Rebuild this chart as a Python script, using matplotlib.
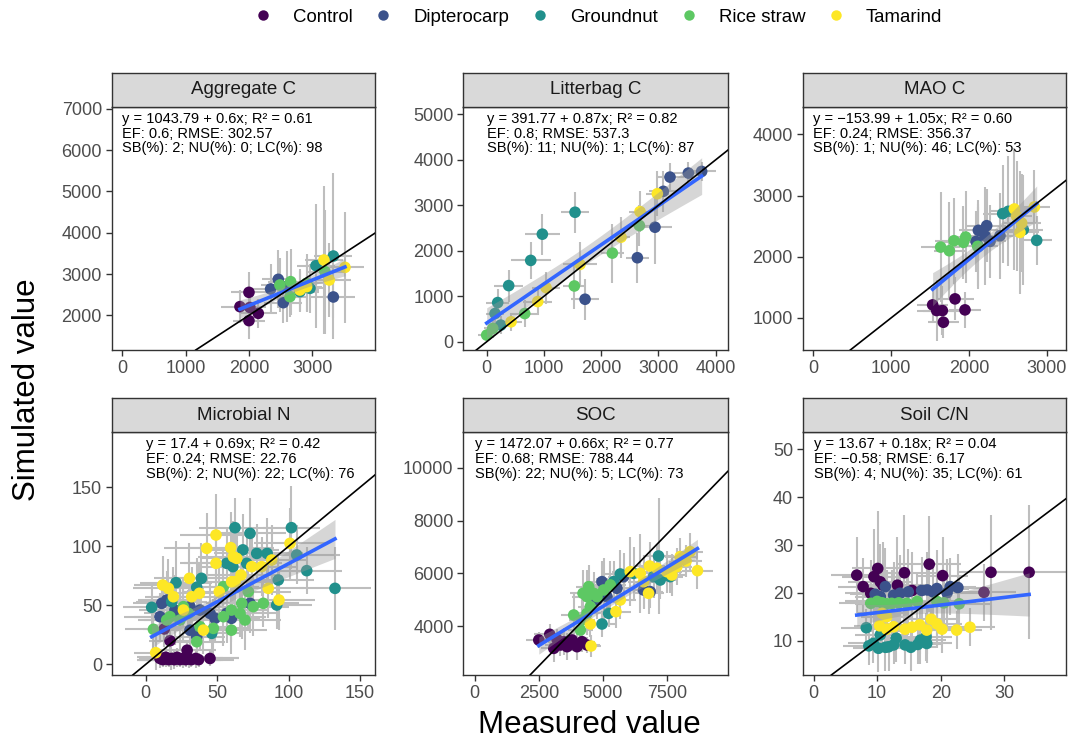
import numpy as np
import matplotlib.pyplot as plt
from matplotlib.lines import Line2D

plt.rcParams['font.family'] = ['Liberation Sans', 'DejaVu Sans']

treatments = ['Control', 'Dipterocarp', 'Groundnut', 'Rice straw', 'Tamarind']
colours = ['#440154', '#3B528B', '#21908C', '#5DC863', '#FDE725']

# each row: measured, simulated, measured sd, simulated sd  (one list per treatment)
aggregate_c = [
    [(1858, 2210, 300, 400), (2000, 2556, 280, 500), (2000, 1871, 250, 450), (2147, 2048, 300, 350), (2015, 2190, 250, 300)],
    [(2463, 2871, 250, 700), (2342, 2637, 300, 600), (2542, 2306, 300, 500), (3332, 2444, 350, 500), (2600, 2700, 250, 850)],
    [(3058, 3202, 300, 1500), (3332, 3435, 300, 2000), (2805, 2573, 300, 500), (2963, 2653, 250, 600)],
    [(2489, 2734, 300, 650), (2658, 2815, 350, 800), (2647, 2452, 250, 500), (2910, 2774, 300, 700), (3200, 3056, 300, 1500)],
    [(3184, 3339, 300, 1800), (3516, 3161, 300, 1350), (2805, 2613, 300, 500), (3268, 2855, 350, 900), (2910, 2694, 250, 600)],
]
litterbag_c = [
    [],
    [(3202, 3620, 250, 300), (3523, 3708, 250, 250), (3755, 3745, 250, 200), (3086, 3307, 250, 450), (2940, 2518, 300, 800), (2632, 1847, 200, 550), (1718, 934, 250, 450)],
    [(1543, 2847, 250, 450), (972, 2365, 300, 450), (769, 1788, 350, 400), (384, 1234, 250, 350), (192, 861, 200, 300), (146, 620, 150, 250), (245, 365, 200, 200)],
    [(2667, 2555, 200, 450), (2195, 1949, 200, 650), (1531, 1226, 200, 500), (664, 620, 250, 300), (0, 146, 150, 150), (105, 292, 150, 200)],
    [(2981, 3255, 200, 500), (2678, 2861, 200, 450), (2346, 2299, 150, 450), (1630, 1700, 300, 500), (1036, 1190, 250, 350), (891, 883, 250, 300), (425, 438, 200, 200)],
]
mao_c = [
    [(1534, 1213, 200, 300), (1586, 1120, 250, 500), (1659, 1120, 250, 400), (1672, 929, 200, 250), (1822, 1311, 250, 350), (1950, 1131, 200, 300)],
    [(2122, 2432, 250, 500), (2229, 2508, 250, 600), (2092, 2251, 200, 500), (2207, 2344, 250, 800), (2400, 2344, 250, 700), (2272, 2251, 200, 600)],
    [(2435, 2705, 250, 800), (2507, 2743, 250, 900), (2872, 2268, 200, 400), (2700, 2443, 250, 900), (2122, 2169, 250, 700)],
    [(1637, 2158, 250, 900), (1749, 2098, 200, 800), (1809, 2262, 250, 700), (1929, 2235, 250, 600), (1959, 2322, 200, 750), (2113, 2169, 200, 650)],
    [(2585, 2781, 200, 1000), (2657, 2399, 250, 1000), (2842, 2814, 200, 600), (2679, 2552, 250, 800), (2614, 2661, 200, 900)],
]
microbial_n = [
    [(10, 5, 15, 8), (12, 4, 18, 6), (14, 6, 20, 8), (16, 4, 22, 6), (18, 5, 20, 10), (20, 4, 25, 8), (22, 6, 22, 8),
     (24, 4, 25, 6), (26, 5, 28, 8), (28, 4, 25, 6), (30, 5, 20, 8), (32, 4, 22, 6), (35, 5, 30, 8), (37, 4, 25, 6),
     (45, 5, 20, 6), (17, 20, 15, 10), (29, 12, 20, 8), (13, 30, 15, 15)],
    [(11.2, 51.7, 20, 20), (10, 40.4, 25, 20), (24, 43.2, 25, 25), (31, 48.9, 30, 20), (38, 46, 25, 30), (45, 43.2, 30, 25),
     (48.5, 39, 25, 20), (56.7, 43.2, 25, 25), (60, 39, 20, 20), (31, 29, 25, 20), (35.7, 23.4, 20, 15), (20.5, 46, 25, 30),
     (14.7, 54.5, 20, 25), (73, 51.7, 25, 25)],
    [(62.5, 115.8, 25, 25), (102, 115.8, 20, 35), (73, 111, 25, 30), (68, 97, 25, 30), (77.7, 94, 30, 25), (85, 94, 25, 30),
     (105.7, 92.7, 30, 25), (112.7, 79.4, 25, 20), (92.8, 71.5, 25, 20), (91.7, 50.3, 25, 20), (132.5, 64.4, 25, 35),
     (21.2, 69.2, 25, 35), (39, 72.9, 25, 30), (35.7, 65.3, 25, 25), (4.2, 48.3, 20, 20), (18.2, 53.1, 25, 20),
     (56.7, 85.6, 30, 30), (61, 82.8, 25, 30), (46.2, 26.3, 20, 20), (70.7, 85.6, 25, 25)],
    [(5.4, 29.7, 20, 20), (17, 40.4, 25, 20), (24, 37.6, 25, 25), (35.7, 19.2, 20, 20), (47.4, 30.5, 25, 25), (54.4, 40.4, 30, 25),
     (60, 46, 25, 25), (67.2, 51.7, 25, 30), (75.3, 48.9, 25, 25), (82.3, 51.7, 25, 20), (71.8, 61.6, 30, 30), (54.4, 65.8, 25, 30),
     (66, 43.2, 25, 20), (26.4, 48.9, 25, 25), (38, 31.9, 20, 20), (69.5, 37.6, 25, 25), (29.9, 43.2, 25, 20), (14.7, 37.6, 20, 20),
     (60, 29, 25, 20)],
    [(11.9, 67.2, 20, 25), (15.9, 64.4, 25, 25), (19.4, 57.3, 20, 25), (26.4, 46, 25, 25), (30.6, 72.9, 25, 30), (32.2, 57.3, 25, 25),
     (37.6, 60.2, 25, 25), (42.7, 98.3, 30, 30), (49.2, 109.6, 25, 35), (49.2, 85.6, 25, 30), (51.5, 61.6, 25, 25), (59.5, 98.9, 30, 30),
     (61.4, 91.2, 25, 30), (63.7, 89.8, 25, 25), (66.7, 75.7, 25, 25), (62.5, 70, 25, 25), (74.2, 82.8, 25, 30), (81.2, 82.8, 25, 25),
     (88.2, 88.4, 25, 30), (85.8, 64.4, 25, 25), (93.3, 54.5, 25, 25), (101, 102.5, 25, 30), (40.4, 29, 20, 20), (7, 9.9, 15, 15),
     (60.2, 70, 25, 25)],
]
soc = [
    [(2500, 3483, 500, 300), (2927, 3698, 600, 400), (3083, 3168, 500, 500), (3342, 3294, 600, 400), (3601, 3231, 500, 500),
     (3795, 3483, 600, 400), (3990, 3231, 500, 500), (4184, 3420, 500, 400), (4378, 3294, 500, 300), (3472, 3420, 600, 500),
     (3212, 3508, 500, 400)],
    [(4961, 5689, 600, 800), (5155, 5122, 600, 700), (5544, 5437, 500, 600), (6580, 5374, 600, 700), (6839, 5311, 500, 600),
     (5803, 5878, 600, 900), (4767, 4996, 500, 700)],
    [(5674, 5979, 600, 900), (5415, 5689, 500, 800), (5220, 4491, 500, 500), (4961, 4088, 500, 500), (7163, 6659, 600, 2200),
     (6969, 5878, 700, 800), (7228, 5752, 600, 700), (7617, 5878, 500, 600), (6192, 6004, 600, 1000)],
    [(4223, 5248, 500, 900), (4378, 5122, 600, 1000), (4637, 5248, 500, 800), (4767, 5122, 500, 700), (3860, 4428, 500, 800),
     (4508, 4744, 500, 900), (4378, 4491, 500, 800), (4184, 4239, 500, 900), (4119, 3861, 500, 600), (5026, 5374, 600, 1200),
     (5285, 5563, 600, 900), (4443, 5500, 500, 800)],
    [(4508, 4088, 500, 500), (4534, 3256, 400, 400), (5505, 4555, 600, 600), (5674, 4996, 600, 700), (6062, 6067, 700, 1300),
     (6451, 6004, 700, 1500), (6580, 5689, 600, 1000), (6775, 5248, 600, 800), (6813, 6281, 600, 900), (7487, 6067, 600, 800),
     (7876, 6256, 600, 700), (8005, 6634, 600, 700), (8238, 6470, 600, 600), (8394, 6823, 500, 700), (8679, 6105, 600, 700),
     (7681, 5941, 600, 800), (7098, 6193, 600, 900)],
]
soil_cn = [
    [(6.8, 23.7, 4, 8), (7.8, 21.3, 4, 6), (9.5, 23.4, 5, 10), (10.1, 25.1, 4, 12), (10.5, 22.3, 5, 8), (10.9, 21.6, 4, 9),
     (9.0, 19.9, 4, 7), (13.2, 21.6, 5, 10), (14.3, 24.2, 5, 12), (18.2, 26.0, 5, 10), (20.3, 23.6, 4, 8), (27.9, 24.3, 5, 12),
     (33.9, 24.3, 7, 14), (26.8, 20.1, 5, 6), (15.5, 20.5, 5, 8)],
    [(9.7, 19.7, 4, 6), (11.3, 21.3, 4, 8), (12.6, 19.5, 5, 7), (13.6, 19.9, 4, 8), (14.9, 20.2, 5, 9), (17.0, 20.5, 4, 7),
     (17.9, 20.6, 5, 8), (18.8, 20.2, 4, 6), (21.0, 20.0, 5, 7), (21.5, 21.3, 4, 6), (22.7, 21.1, 5, 7), (19.4, 20.9, 5, 8),
     (10.5, 19.2, 4, 7)],
    [(8.3, 12.7, 4, 4), (8.7, 8.9, 4, 4), (9.4, 9.4, 4, 4), (10.2, 8.4, 4, 5), (11.3, 8.6, 4, 5), (12.6, 9.1, 4, 4),
     (13.0, 10.5, 4, 5), (14.4, 9.1, 4, 4), (15.3, 8.6, 4, 5), (16.4, 9.2, 4, 4), (17.7, 10.8, 4, 5), (17.8, 9.4, 4, 4),
     (16.8, 10.1, 4, 5), (10.5, 11.2, 4, 4), (11.8, 8.7, 4, 5)],
    [(9.0, 17.8, 5, 6), (10.0, 18.2, 5, 7), (10.8, 17.9, 5, 8), (12.3, 17.8, 5, 7), (13.4, 17.9, 5, 6), (14.7, 17.8, 5, 7),
     (16.3, 18.2, 5, 6), (19.4, 18.2, 5, 7), (20.5, 17.9, 5, 6), (22.9, 17.7, 5, 6), (11.5, 17.7, 5, 7)],
    [(10.4, 13.1, 4, 5), (11.5, 12.4, 4, 5), (12.6, 12.9, 4, 6), (14.4, 12.4, 4, 5), (15.5, 12.8, 4, 5), (16.7, 13.3, 4, 6),
     (18.5, 14.5, 4, 6), (19.4, 13.5, 4, 5), (20.2, 12.4, 4, 5), (22.5, 12.2, 4, 4), (24.6, 12.8, 4, 4), (11.5, 15.0, 4, 6),
     (17.8, 12.2, 4, 5), (10.8, 15.7, 4, 6)],
]

titles = ['Aggregate C', 'Litterbag C', 'MAO C', 'Microbial N', 'SOC', 'Soil C/N']
stats = [
    'y = 1043.79 + 0.6x; R² = 0.61\nEF: 0.6; RMSE: 302.57\nSB(%): 2; NU(%): 0; LC(%): 98',
    'y = 391.77 + 0.87x; R² = 0.82\nEF: 0.8; RMSE: 537.3\nSB(%): 11; NU(%): 1; LC(%): 87',
    'y = \u2212153.99 + 1.05x; R² = 0.60\nEF: 0.24; RMSE: 356.37\nSB(%): 1; NU(%): 46; LC(%): 53',
    'y = 17.4 + 0.69x; R² = 0.42\nEF: 0.24; RMSE: 22.76\nSB(%): 2; NU(%): 22; LC(%): 76',
    'y = 1472.07 + 0.66x; R² = 0.77\nEF: 0.68; RMSE: 788.44\nSB(%): 22; NU(%): 5; LC(%): 73',
    'y = 13.67 + 0.18x; R² = 0.04\nEF: \u22120.58; RMSE: 6.17\nSB(%): 4; NU(%): 35; LC(%): 61',
]
xlims = [(-167, 3990), (-409, 4210), (-137, 3249), (-23.8, 160.5), (-440, 9857), (-1.7, 39.7)]
ylims = [(1160, 7051), (-182, 5168), (475, 4454), (-9, 196.6), (2160, 11336), (2.8, 53.6)]
xticks = [[0, 1000, 2000, 3000], [0, 1000, 2000, 3000, 4000], [0, 1000, 2000, 3000],
          [0, 50, 100, 150], [0, 2500, 5000, 7500], [0, 10, 20, 30]]
yticks = [[2000, 3000, 4000, 5000, 6000, 7000], [0, 1000, 2000, 3000, 4000, 5000], [1000, 2000, 3000, 4000],
          [0, 50, 100, 150], [4000, 6000, 8000, 10000], [10, 20, 30, 40, 50]]
panels = [aggregate_c, litterbag_c, mao_c, microbial_n, soc, soil_cn]

W, H = 1074, 741
fig = plt.figure(figsize=(W / 100, H / 100), dpi=100)

lefts = [111.7, 463.3, 802.7]
widths = [263.3, 264.4, 263.3]
tops = [106.7, 432.3]
heights = [243.3, 242.7]
strip_h = 34
edge = '#333333'

for i, data in enumerate(panels):
    r, c = divmod(i, 3)
    l, w, t, h = lefts[c], widths[c], tops[r], heights[r]
    ax = fig.add_axes([l / W, 1 - (t + h) / H, w / W, h / H])

    allx, ally = [], []
    for g, rows in enumerate(data):
        if not rows:
            continue
        a = np.array(rows, dtype=float)
        ax.errorbar(a[:, 0], a[:, 1], xerr=a[:, 2], yerr=a[:, 3], fmt='none',
                    ecolor='#BEBEBE', elinewidth=1.5, capsize=0, zorder=1)
        allx.extend(a[:, 0]); ally.extend(a[:, 1])
    for g, rows in enumerate(data):
        if not rows:
            continue
        a = np.array(rows, dtype=float)
        ax.scatter(a[:, 0], a[:, 1], s=70, color=colours[g], edgecolors='none', zorder=3)

    # linear fit + 95% band
    allx = np.array(allx); ally = np.array(ally)
    b, a0 = np.polyfit(allx, ally, 1)
    n = len(allx)
    resid = ally - (a0 + b * allx)
    s = np.sqrt(np.sum(resid ** 2) / (n - 2))
    xg = np.linspace(allx.min(), allx.max(), 100)
    se = s * np.sqrt(1 / n + (xg - allx.mean()) ** 2 / np.sum((allx - allx.mean()) ** 2))
    yg = a0 + b * xg
    ax.fill_between(xg, yg - 2.0 * se, yg + 2.0 * se, color='#999999', alpha=0.4, lw=0, zorder=4)
    ax.plot(xg, yg, color='#3366FF', lw=2.6, zorder=5)
    ax.axline((0, 0), slope=1, color='black', lw=1.2, zorder=6)

    ax.set_xlim(xlims[i]); ax.set_ylim(ylims[i])
    ax.set_xticks(xticks[i]); ax.set_yticks(yticks[i])
    ax.tick_params(length=4, width=1, color=edge, labelcolor='#4D4D4D', labelsize=13, pad=3)
    for sp in ax.spines.values():
        sp.set_color(edge); sp.set_linewidth(1.0)

    ax.text(0, 1 - 5 / h, stats[i], transform=ax.get_xaxis_transform(), ha='left', va='top',
            fontsize=10.5, color='black', linespacing=1.08, zorder=7)

    sax = fig.add_axes([l / W, 1 - t / H, w / W, strip_h / H])
    sax.set_facecolor('#D9D9D9')
    sax.set_xticks([]); sax.set_yticks([])
    for sp in sax.spines.values():
        sp.set_color(edge); sp.set_linewidth(1.0)
    sax.text(0.5, 0.5, titles[i], ha='center', va='center', fontsize=13.5, color='#1A1A1A',
             transform=sax.transAxes)

fig.text(589 / W, 1 - 725 / H, 'Measured value', ha='center', va='center', fontsize=22.5)
fig.text(27 / W, 1 - 390 / H, 'Simulated value', ha='center', va='center', fontsize=22.5, rotation=90)

handles = [Line2D([], [], marker='o', ls='none', color=col, markersize=7.5, markeredgewidth=0) for col in colours]
fig.legend(handles, treatments, loc='center', bbox_to_anchor=(598 / W, 1 - 17 / H), ncol=5, frameon=False,
           fontsize=13.4, handletextpad=1.1, columnspacing=1.17, handlelength=1.0)

fig.savefig('out.png', dpi=100)
